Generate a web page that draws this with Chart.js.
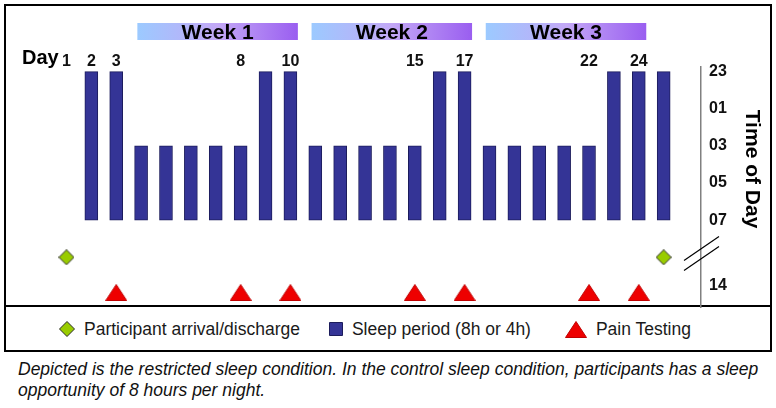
<!DOCTYPE html>
<html>
<head>
<meta charset="utf-8">
<script src="https://cdn.jsdelivr.net/npm/chart.js@4.4.1/dist/chart.umd.min.js"></script>
<style>
  html, body { margin: 0; background: #fff; width: 776px; height: 408px; overflow: hidden; font-family: 'Liberation Sans', Arial, sans-serif; }
  #frame { position: absolute; left: 4px; top: 4px; width: 764px; height: 344px; border: 2px solid #000; }
  #sep { position: absolute; left: 4px; top: 305px; width: 768px; height: 2px; background: #000; }
  #wrap { position: absolute; left: 0; top: 0; width: 776px; height: 316px; }
  #legend { position: absolute; left: 59px; top: 318px; height: 22px; display: flex; align-items: center; font-size: 17.5px; color: #1a1a1a; white-space: nowrap; }
  #legend .item { display: flex; align-items: center; margin-right: 29px; }
  #legend .item:nth-child(2) { margin-right: 34px; }
  #legend img { margin-right: 9px; }
  #note { position: absolute; left: 18px; top: 359px; font-style: italic; font-size: 17.5px; line-height: 21px; color: #111; white-space: nowrap; }
</style>
</head>
<body>
<div id="frame"></div>
<div id="sep"></div>
<div id="wrap"><canvas id="chart"></canvas></div>
<div id="legend"></div>
<div id="note">Depicted is the restricted sleep condition. In the control sleep condition, participants has a sleep<br>opportunity of 8 hours per night.</div>
<script>
// y axis runs in hours after 23:00, the gap 07 -> 14 is squeezed
const dayTicks   = [1, 2, 3, 8, 10, 15, 17, 22, 24];
const hourTicks  = [0, 2, 4, 6, 8, 11.5];
const hourLabels = ['23', '01', '03', '05', '07', '14'];

const sleepDays = [2, 3, 4, 5, 6, 7, 8, 9, 10, 11, 12, 13, 14, 15, 16, 17, 18, 19, 20, 21, 22, 23, 24, 25];
const sleepFrom = [0, 0, 4, 4, 4, 4, 4, 0, 0, 4, 4, 4, 4, 4, 0, 0, 4, 4, 4, 4, 4, 0, 0, 0];
const sleepTo   = [8, 8, 8, 8, 8, 8, 8, 8, 8, 8, 8, 8, 8, 8, 8, 8, 8, 8, 8, 8, 8, 8, 8, 8];

const visitDays = [1, 25];
const visitY    = [10, 10];

const painDays = [3, 8, 10, 15, 17, 22, 24];
const painY    = [11.9, 11.9, 11.9, 11.9, 11.9, 11.9, 11.9];

const weekNames = ['Week 1', 'Week 2', 'Week 3'];
const weekFirst = [4, 11, 18];
const weekLast  = [10, 17, 24];

const FONT = "'Liberation Sans', Arial, sans-serif";
Chart.defaults.font.family = FONT;

function marker(w, h, fill, stroke, path) {
  const c = document.createElement('canvas');
  c.width = w; c.height = h;
  const g = c.getContext('2d');
  g.beginPath();
  path(g, w, h);
  g.closePath();
  g.fillStyle = fill;
  g.fill();
  g.strokeStyle = stroke;
  g.lineWidth = 1;
  g.stroke();
  return c;
}

const diamondImg = marker(16, 16, '#99cc00', '#2b2b2b', (g, w, h) => {
  g.moveTo(w / 2, 0.5); g.lineTo(w - 0.5, h / 2); g.lineTo(w / 2, h - 0.5); g.lineTo(0.5, h / 2);
});
const squareImg = marker(14, 14, '#343496', '#1c1c5c', (g, w, h) => {
  g.rect(0.5, 0.5, w - 1, h - 1);
});
const triangleImg = marker(22, 17, '#ee0000', '#c00000', (g, w, h) => {
  g.moveTo(w / 2, 0.5); g.lineTo(w - 0.5, h - 0.5); g.lineTo(0.5, h - 0.5);
});

const decor = {
  id: 'decor',
  afterDraw(chart) {
    const { ctx, chartArea } = chart;
    const x = chart.scales.x, y = chart.scales.y;
    ctx.save();

    // week bands
    weekNames.forEach((name, i) => {
      const x0 = x.getPixelForValue(weekFirst[i] - 0.15);
      const x1 = x.getPixelForValue(weekLast[i] + 0.3);
      const grad = ctx.createLinearGradient(x0, 0, x1, 0);
      grad.addColorStop(0, '#9ccaff');
      grad.addColorStop(0.5, '#c3a8f6');
      grad.addColorStop(1, '#9a5ef0');
      ctx.fillStyle = grad;
      ctx.fillRect(x0, 23, x1 - x0, 17);
      ctx.fillStyle = '#000';
      ctx.font = 'bold 21px ' + FONT;
      ctx.textAlign = 'center';
      ctx.textBaseline = 'alphabetic';
      ctx.fillText(name, (x0 + x1) / 2, 39);
    });

    // "Day"
    ctx.font = 'bold 20px ' + FONT;
    ctx.textAlign = 'left';
    ctx.fillStyle = '#000';
    ctx.fillText('Day', 22, 64);

    // axis break
    const ax = chartArea.right;
    const ym = y.getPixelForValue(9.8);
    ctx.strokeStyle = '#000';
    ctx.lineWidth = 1.2;
    [-5, 5].forEach(off => {
      ctx.beginPath();
      ctx.moveTo(ax - 17, ym + off + 12);
      ctx.lineTo(ax + 18, ym + off - 12);
      ctx.stroke();
    });

    // axis title
    ctx.translate(752, 169);
    ctx.rotate(Math.PI / 2);
    ctx.font = 'bold 21px ' + FONT;
    ctx.textAlign = 'center';
    ctx.textBaseline = 'middle';
    ctx.fillText('Time of Day', 0, 0);
    ctx.restore();
  }
};

const htmlLegend = {
  id: 'htmlLegend',
  afterUpdate(chart) {
    const box = document.getElementById('legend');
    box.innerHTML = '';
    chart.data.datasets.forEach(ds => {
      const item = document.createElement('div');
      item.className = 'item';
      const img = document.createElement('img');
      img.src = ds.pointStyle.toDataURL();
      const txt = document.createElement('span');
      txt.textContent = ds.label;
      item.appendChild(img);
      item.appendChild(txt);
      box.appendChild(item);
    });
  }
};

new Chart(document.getElementById('chart'), {
  type: 'bar',
  data: {
    datasets: [
      {
        type: 'line',
        label: 'Participant arrival/discharge',
        data: visitDays.map((d, i) => ({ x: d, y: visitY[i] })),
        showLine: false,
        pointStyle: diamondImg,
        pointRadius: 8
      },
      {
        type: 'bar',
        label: 'Sleep period (8h or 4h)',
        data: sleepDays.map((d, i) => ({ x: d, y: [sleepFrom[i], sleepTo[i]] })),
        backgroundColor: '#343496',
        borderColor: '#1c1c5c',
        borderWidth: 1,
        borderSkipped: false,
        barThickness: 13,
        pointStyle: squareImg
      },
      {
        type: 'line',
        label: 'Pain Testing',
        data: painDays.map((d, i) => ({ x: d, y: painY[i] })),
        showLine: false,
        pointStyle: triangleImg,
        pointRadius: 8
      }
    ]
  },
  options: {
    responsive: true,
    maintainAspectRatio: false,
    animation: false,
    events: [],
    layout: { padding: { left: 54, right: 45, top: 47, bottom: 5 } },
    plugins: {
      legend: { display: false },
      tooltip: { enabled: false }
    },
    scales: {
      x: {
        type: 'linear',
        position: 'top',
        offset: false,
        min: 0.5,
        max: 26.5,
        grid: { display: false, drawTicks: false },
        border: { display: false },
        ticks: {
          padding: -3,
          autoSkip: false,
          maxRotation: 0,
          color: '#111',
          font: { size: 16, weight: 'bold', lineHeight: 1 },
          callback: v => String(v)
        },
        afterBuildTicks: s => { s.ticks = dayTicks.map(v => ({ value: v })); },
        afterFit: s => { s.height = 20; s.paddingLeft = 0; s.paddingRight = 0; }
      },
      y: {
        type: 'linear',
        position: 'right',
        reverse: true,
        min: -0.25,
        max: 12.68,
        grid: { display: false, drawTicks: false },
        border: { display: true, color: '#808080', width: 1.5 },
        ticks: {
          padding: 8,
          color: '#111',
          font: { size: 16, weight: 'bold' },
          callback: v => hourLabels[hourTicks.indexOf(v)]
        },
        afterBuildTicks: s => { s.ticks = hourTicks.map(v => ({ value: v })); },
        afterFit: s => { s.width = 30; s.paddingTop = 0; s.paddingBottom = 0; }
      }
    }
  },
  plugins: [decor, htmlLegend]
});
</script>
</body>
</html>
